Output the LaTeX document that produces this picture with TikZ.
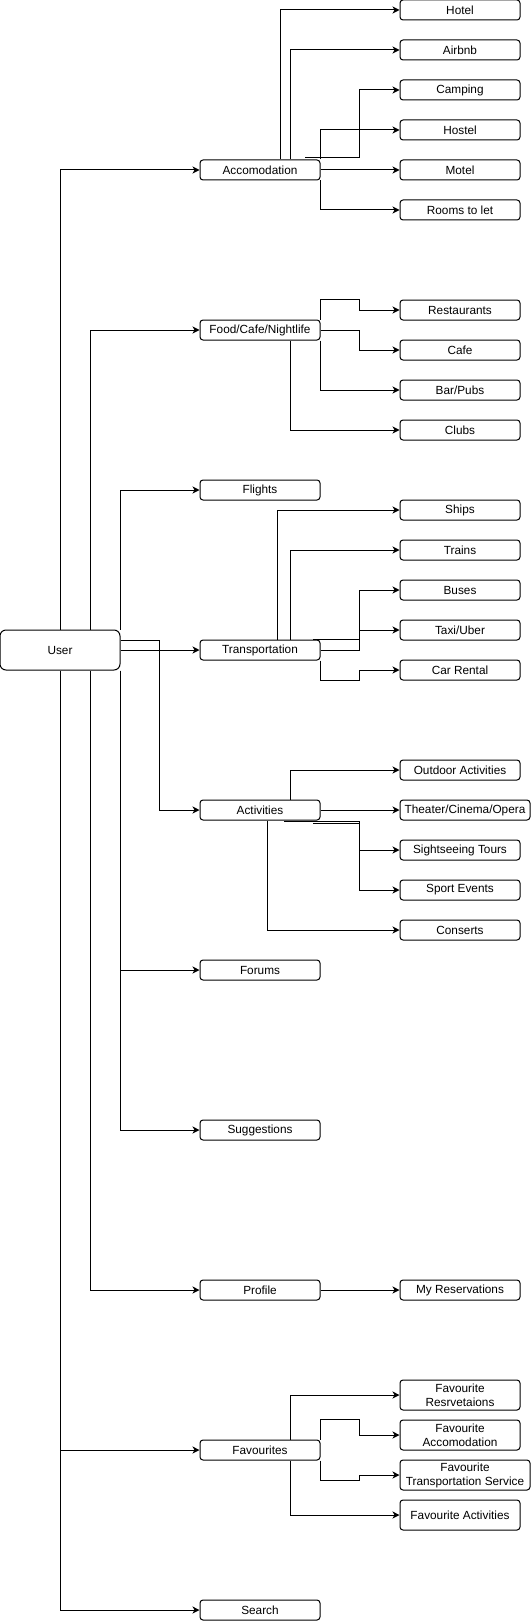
\documentclass[tikz,border=0pt]{standalone}
\usepackage{fontspec}
\setmainfont{Liberation Sans}
\usetikzlibrary{arrows.meta,calc}
\begin{document}
\begin{tikzpicture}[x=1pt,y=-1pt,
  every node/.style={font=\fontsize{11.8}{14}\selectfont, align=center, inner sep=0pt},
  box/.style={draw, line width=1pt, rounded corners=3pt, minimum width=120pt, minimum height=20pt},
  tallbox/.style={box, minimum height=30pt},
  widebox/.style={minimum width=130pt},
  userbox/.style={draw, line width=1pt, rounded corners=6pt, minimum width=120pt, minimum height=40pt},
  arr/.style={line width=1pt, -{Stealth[length=7pt,width=7pt,inset=2pt]}}]
\useasboundingbox (0,0) rectangle (531,1621);
% main
\node[userbox] (User) at (60,650) {User};
\node[box] (Accom) at (260,170) {Accomodation};
\node[box] (Food) at (260,330) {Food/Cafe/Nightlife};
\node[box] (Flights) at (260,490) {Flights};
\node[box] (Trans) at (260,650) {Transportation};
\node[box] (Act) at (260,810) {Activities};
\node[box] (Forums) at (260,970) {Forums};
\node[box] (Sugg) at (260,1130) {Suggestions};
\node[box] (Profile) at (260,1290) {Profile};
\node[box] (Fav) at (260,1450) {Favourites};
\node[box] (Search) at (260,1610) {Search};
% right
\node[box] (Hotel) at (460,10) {Hotel};
\node[box] (Airbnb) at (460,50) {Airbnb};
\node[box] (Camping) at (460,90) {Camping};
\node[box] (Hostel) at (460,130) {Hostel};
\node[box] (Motel) at (460,170) {Motel};
\node[box] (Rooms) at (460,210) {Rooms to let};
\node[box] (Rest) at (460,310) {Restaurants};
\node[box] (Cafe) at (460,350) {Cafe};
\node[box] (Bar) at (460,390) {Bar/Pubs};
\node[box] (Clubs) at (460,430) {Clubs};
\node[box] (Ships) at (460,510) {Ships};
\node[box] (Trains) at (460,550) {Trains};
\node[box] (Buses) at (460,590) {Buses};
\node[box] (Taxi) at (460,630) {Taxi/Uber};
\node[box] (Car) at (460,670) {Car Rental};
\node[box] (Outdoor) at (460,770) {Outdoor Activities};
\node[box,widebox] (Theater) at (465,810) {Theater/Cinema/Opera};
\node[box] (Sight) at (460,850) {Sightseeing Tours};
\node[box] (Sport) at (460,890) {Sport Events};
\node[box] (Consert) at (460,930) {Conserts};
\node[box] (MyRes) at (460,1290) {My Reservations};
\node[tallbox] (FavRes) at (460,1395) {Favourite\\Resrvetaions};
\node[tallbox] (FavAcc) at (460,1435) {Favourite\\Accomodation};
\node[tallbox,widebox] (FavTr) at (465,1475) {Favourite\\Transportation Service};
\node[tallbox] (FavAct) at (460,1515) {Favourite Activities};
% user edges
\draw[arr] (User.north) |- (Accom);
\draw[arr] ([xshift=30pt]User.north) |- (Food);
\draw[arr] (User.north east) |- (Flights);
\draw[arr] ([yshift=10pt]User.east) -| ([xshift=-40pt]Act.west) -- (Act);
\draw[arr] (User.east) -- (Trans);
\draw[arr] (User.south east) |- (Forums);
\draw[arr] (User.south east) |- (Sugg);
\draw[arr] ([xshift=30pt]User.south) |- (Profile);
\draw[arr] (User.south) |- (Fav);
\draw[arr] (User.south) |- (Search);
% accomodation
\draw[arr] ([xshift=20pt]Accom.north) |- (Hotel);
\draw[arr] ([xshift=30pt]Accom.north) |- (Airbnb);
\draw[arr] ([xshift=45pt,yshift=2pt]Accom.north) -| ([xshift=-40pt]Camping.west) -- (Camping);
\draw[arr] (Accom.north east) |- (Hostel);
\draw[arr] (Accom) -- (Motel);
\draw[arr] (Accom.south east) |- (Rooms);
% food
\draw[arr] (Food.north east) -- ++(0,-20) -| ([xshift=-40pt]Rest.west) -- (Rest);
\draw[arr] (Food.east) -| ([xshift=-40pt]Cafe.west) -- (Cafe);
\draw[arr] (Food.south east) |- (Bar);
\draw[arr] ([xshift=30pt]Food.south) |- (Clubs);
% transportation
\draw[arr] ([xshift=17pt]Trans.north) |- (Ships);
\draw[arr] ([xshift=30pt]Trans.north) |- (Trains);
\draw[arr] ([xshift=53pt]Trans.north) -| ([xshift=-40pt]Buses.west) -- (Buses);
\draw[arr] (Trans.east) -| ([xshift=-40pt]Taxi.west) -- (Taxi);
\draw[arr] (Trans.south east) -- ++(0,20) -| ([xshift=-40pt]Car.west) -- (Car);
% activities
\draw[arr] ([xshift=30pt]Act.north) |- (Outdoor);
\draw[arr] (Act) -- (Theater);
\draw[arr] ([xshift=24pt,yshift=-1pt]Act.south) -| ([xshift=-40pt]Sight.west) -- (Sight);
\draw[arr] ([xshift=53pt,yshift=-3pt]Act.south) -| ([xshift=-40pt]Sport.west) -- (Sport);
\draw[arr] ([xshift=7pt]Act.south) |- (Consert);
% profile
\draw[arr] (Profile) -- (MyRes);
% favourites
\draw[arr] ([xshift=30pt]Fav.north) |- (FavRes);
\draw[arr] (Fav.north east) -- ++(0,-20) -| ([xshift=-40pt]FavAcc.west) -- (FavAcc);
\draw[arr] (Fav.south east) -- ++(0,20) -| ([xshift=-40pt]FavTr.west) -- (FavTr);
\draw[arr] ([xshift=30pt]Fav.south) |- (FavAct);
\end{tikzpicture}
\end{document}
